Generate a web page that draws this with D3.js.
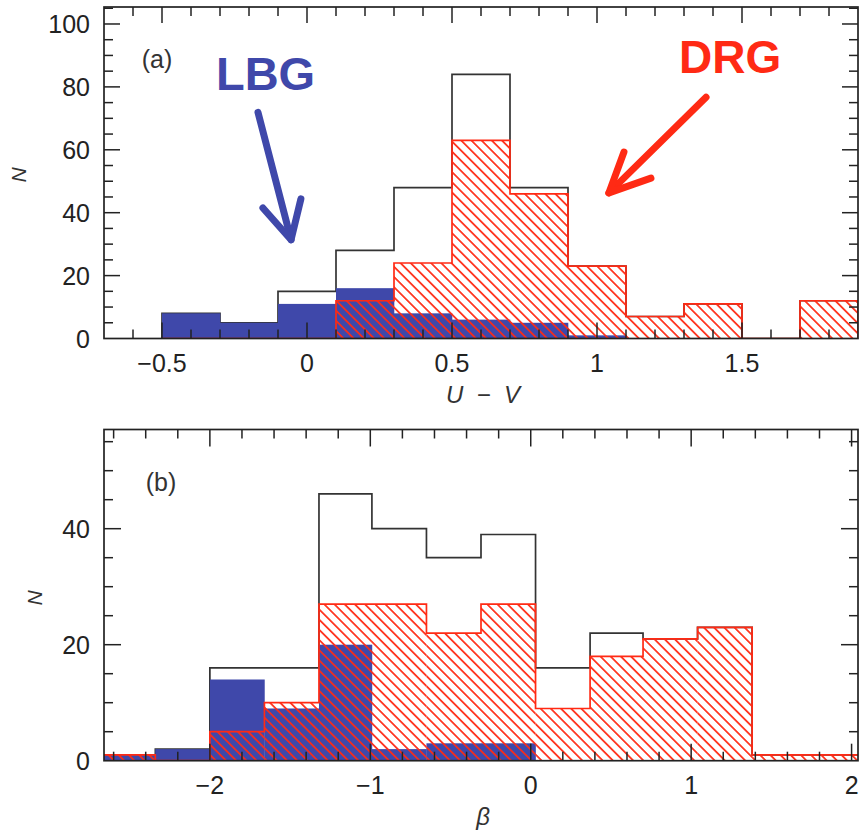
<!DOCTYPE html>
<html>
<head>
<meta charset="utf-8">
<script src="https://cdn.jsdelivr.net/npm/d3@7"></script>
<style>
  html, body { margin: 0; padding: 0; background: #fff; }
  svg { display: block; }
  text { font-family: "Liberation Sans", Arial, Helvetica, sans-serif; }
</style>
</head>
<body>
<div id="chart"></div>
<script>
// ---------- DATA ----------
// Panel (a): U - V histogram, bins of 0.2
const uvEdges = [-0.5, -0.3, -0.1, 0.1, 0.3, 0.5, 0.7, 0.9, 1.1, 1.3, 1.5, 1.7, 1.9];
const uvAll   = [8, 5, 15, 28, 48, 84, 48, 23, 7, 11, 0, 12];
const uvLBG   = [8, 5, 11, 16, 8, 6, 5, 1, 0, 0, 0, 0];
const uvDRG   = [0, 0, 0, 12, 24, 63, 46, 23, 7, 11, 0, 12];
const uvXTicks = [-0.5, 0, 0.5, 1, 1.5];
const uvXTickLabels = ["\u22120.5", "0", "0.5", "1", "1.5"];
const uvYTicks = [0, 20, 40, 60, 80, 100];

// Panel (b): beta histogram
const betaEdges = [-2.68, -2.34, -2.00, -1.66, -1.32, -0.99, -0.65, -0.31, 0.03, 0.37, 0.70, 1.04, 1.38, 1.72, 2.06];
const betaAll   = [1, 2, 16, 16, 46, 40, 35, 39, 16, 22, 21, 23, 1, 1];
const betaLBG   = [1, 2, 14, 9, 20, 2, 3, 3, 0, 0, 0, 0, 0, 0];
const betaDRG   = [1, 0, 5, 10, 27, 27, 22, 27, 9, 18, 21, 23, 1, 1];
const betaXTicks = [-2, -1, 0, 1, 2];
const betaXTickLabels = ["\u22122", "\u22121", "0", "1", "2"];
const betaYTicks = [0, 20, 40];

// ---------- STYLE ----------
const BLUE = "#3f48aa";
const RED = "#ff2a14";
const BLACK = "#333";

const W = 861, H = 830;
const svg = d3.select("#chart").append("svg").attr("width", W).attr("height", H);
const defs = svg.append("defs");

const pat = defs.append("pattern")
  .attr("id", "hatch")
  .attr("patternUnits", "userSpaceOnUse")
  .attr("width", 7.2).attr("height", 7.2)
  .attr("patternTransform", "rotate(45)");
pat.append("line").attr("x1", -1).attr("x2", 8.2).attr("y1", 3.6).attr("y2", 3.6)
  .attr("stroke", RED).attr("stroke-width", 1.7);

function stepPoints(edges, vals) {
  const pts = [[edges[0], 0]];
  vals.forEach((v, i) => pts.push([edges[i], v]));
  pts.push([edges[edges.length - 1], vals[vals.length - 1]]);
  pts.push([edges[edges.length - 1], 0]);
  return pts;
}

function panel(cfg) {
  const x = d3.scaleLinear().domain(cfg.xDomain).range([cfg.left, cfg.right]);
  const y = d3.scaleLinear().domain(cfg.yDomain).range([cfg.bottom, cfg.top]);
  const g = svg.append("g");
  const clipId = "clip" + cfg.id;
  defs.append("clipPath").attr("id", clipId).append("rect")
    .attr("x", cfg.left).attr("y", cfg.top)
    .attr("width", cfg.right - cfg.left).attr("height", cfg.bottom - cfg.top);
  const plot = g.append("g").attr("clip-path", `url(#${clipId})`);

  const line = d3.line().x(d => x(d[0])).y(d => y(d[1])).curve(d3.curveStepAfter);

  // total (black outline)
  plot.append("path").attr("d", line(stepPoints(cfg.edges, cfg.all)))
    .attr("fill", "none").attr("stroke", BLACK).attr("stroke-width", 1.7);

  // LBG (blue filled)
  plot.selectAll("rect.lbg").data(cfg.lbg).join("rect").attr("class", "lbg")
    .attr("x", (d, i) => x(cfg.edges[i]))
    .attr("width", (d, i) => x(cfg.edges[i + 1]) - x(cfg.edges[i]) + 0.3)
    .attr("y", d => y(d))
    .attr("height", d => y(0) - y(d))
    .attr("fill", BLUE);

  // DRG (red hatched)
  plot.selectAll("rect.drg").data(cfg.drg).join("rect").attr("class", "drg")
    .attr("x", (d, i) => x(cfg.edges[i]))
    .attr("width", (d, i) => x(cfg.edges[i + 1]) - x(cfg.edges[i]))
    .attr("y", d => y(d))
    .attr("height", d => y(0) - y(d))
    .attr("fill", "url(#hatch)");
  plot.append("path").attr("d", line(stepPoints(cfg.edges, cfg.drg)))
    .attr("fill", "none").attr("stroke", RED).attr("stroke-width", 1.7);

  // frame
  g.append("rect").attr("x", cfg.left).attr("y", cfg.top)
    .attr("width", cfg.right - cfg.left).attr("height", cfg.bottom - cfg.top)
    .attr("fill", "none").attr("stroke", "#222").attr("stroke-width", 1.7);

  // ticks (inward, all four sides)
  const tickG = g.append("g").attr("stroke", "#222").attr("stroke-width", 1.5);
  const xt = d3.range(Math.ceil(cfg.xDomain[0] / cfg.xMinor - 1e-6), Math.floor(cfg.xDomain[1] / cfg.xMinor + 1e-6) + 1)
    .map(k => +(k * cfg.xMinor).toFixed(6));
  xt.forEach(v => {
    const major = Math.abs(v / cfg.xMajor - Math.round(v / cfg.xMajor)) < 1e-6;
    const L = major ? cfg.majLen : cfg.minLen;
    const px = x(v);
    if (px <= cfg.left + 1 || px >= cfg.right - 1) return;
    tickG.append("line").attr("x1", px).attr("x2", px).attr("y1", cfg.bottom).attr("y2", cfg.bottom - L);
    tickG.append("line").attr("x1", px).attr("x2", px).attr("y1", cfg.top).attr("y2", cfg.top + L);
  });
  const yt = d3.range(0, Math.floor(cfg.yDomain[1] / cfg.yMinor + 1e-6) + 1).map(k => k * cfg.yMinor);
  yt.forEach(v => {
    const major = v % cfg.yMajor === 0;
    const L = major ? cfg.majLen : cfg.minLen;
    const py = y(v);
    if (py >= cfg.bottom - 1 || py <= cfg.top + 1) return;
    tickG.append("line").attr("y1", py).attr("y2", py).attr("x1", cfg.left).attr("x2", cfg.left + L);
    tickG.append("line").attr("y1", py).attr("y2", py).attr("x1", cfg.right).attr("x2", cfg.right - L);
  });

  // tick labels
  g.selectAll("text.xl").data(cfg.xTicks).join("text").attr("class", "xl")
    .attr("x", d => x(d)).attr("y", cfg.bottom + 33)
    .attr("text-anchor", "middle").attr("font-size", 25).attr("fill", "#222")
    .text((d, i) => cfg.xTickLabels[i]);
  g.selectAll("text.yl").data(cfg.yTicks).join("text").attr("class", "yl")
    .attr("x", cfg.left - 14).attr("y", d => y(d)).attr("dy", "0.36em")
    .attr("text-anchor", "end").attr("font-size", 25).attr("fill", "#222")
    .text(d => d);

  // axis titles
  g.append("text").attr("transform", `translate(${cfg.nX},${cfg.nY}) rotate(-90)`)
    .attr("text-anchor", "middle").attr("font-size", 21).attr("font-style", "italic")
    .attr("fill", "#333").text("N");
  g.append("text").attr("x", (cfg.left + cfg.right) / 2 + 2).attr("y", cfg.bottom + 64)
    .attr("text-anchor", "middle").attr("font-size", 24).attr("font-style", "italic")
    .attr("fill", "#333").style("white-space", "pre").text(cfg.xTitle);

  // panel tag
  g.append("text").attr("x", x(cfg.tagPos[0])).attr("y", y(cfg.tagPos[1]))
    .attr("font-size", 25).attr("fill", "#333").text(cfg.tag);

  return { x, y, g };
}

const a = panel({
  id: "a", left: 104, right: 858, top: 7, bottom: 338.5,
  xDomain: [-0.7, 1.9], yDomain: [0, 105.4],
  edges: uvEdges, all: uvAll, lbg: uvLBG, drg: uvDRG,
  xTicks: uvXTicks, xTickLabels: uvXTickLabels, yTicks: uvYTicks,
  xMinor: 0.1, xMajor: 0.5, yMinor: 5, yMajor: 20, majLen: 16, minLen: 9,
  nX: 26, nY: 175, xTitle: "U  \u2212  V", tag: "(a)", tagPos: [-0.57, 86]
});

const b = panel({
  id: "b", left: 104, right: 858, top: 429.5, bottom: 760.7,
  xDomain: [-2.66, 2.04], yDomain: [0, 57.1],
  edges: betaEdges, all: betaAll, lbg: betaLBG, drg: betaDRG,
  xTicks: betaXTicks, xTickLabels: betaXTickLabels, yTicks: betaYTicks,
  xMinor: 0.2, xMajor: 1, yMinor: 5, yMajor: 20, majLen: 17, minLen: 9,
  nX: 42, nY: 598, xTitle: "\u03B2", tag: "(b)", tagPos: [-2.4, 46.5]
});

// ---------- ANNOTATIONS (panel a, data coordinates) ----------
const ax = a.x, ay = a.y;
const ann = svg.append("g");
ann.append("text").attr("x", ax(-0.314)).attr("y", ay(79))
  .attr("font-size", 47).attr("font-weight", "bold").attr("fill", BLUE).text("LBG");
ann.append("text").attr("x", ax(1.283)).attr("y", ay(84.5))
  .attr("font-size", 46).attr("font-weight", "bold").attr("fill", RED).text("DRG");

const arrowLine = d3.line().x(d => ax(d[0])).y(d => ay(d[1]));
function arrow(shaft, head, color) {
  ann.append("path").attr("d", arrowLine(shaft)).attr("fill", "none")
    .attr("stroke", color).attr("stroke-width", 7).attr("stroke-linecap", "round");
  ann.append("path").attr("d", arrowLine(head)).attr("fill", "none")
    .attr("stroke", color).attr("stroke-width", 7).attr("stroke-linecap", "round")
    .attr("stroke-linejoin", "round");
}
arrow([[-0.169, 71.9], [-0.055, 31.4]], [[-0.152, 41.5], [-0.055, 31.4], [-0.021, 44.4]], BLUE);
arrow([[1.376, 76.7], [1.041, 46.3]], [[1.093, 59.3], [1.041, 46.3], [1.186, 51.0]], RED);
</script>
</body>
</html>
